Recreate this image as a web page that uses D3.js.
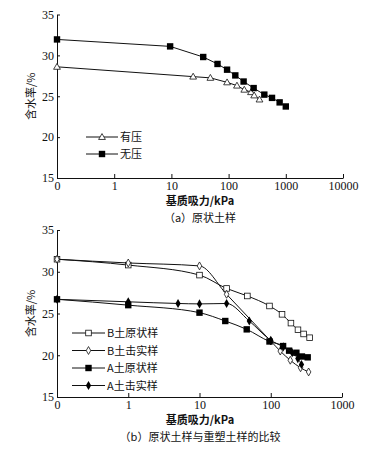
<!DOCTYPE html>
<html>
<head>
<meta charset="utf-8">
<script src="https://cdn.jsdelivr.net/npm/d3@7"></script>
<style>
  body { margin: 0; background: #fff; }
  svg text { fill: #111; }
  .num { font-family: "Liberation Serif", "DejaVu Serif", serif; font-size: 12px; }
  .cjk { font-family: "Noto Sans CJK SC", sans-serif; font-size: 11px; }
</style>
</head>
<body>
<div id="chart"></div>
<script>
// panel (a) — 原状土样
const aTicks = [0, 1, 10, 100, 1000, 10000];
const aWithLoad_x = [0, 24, 48, 94, 140, 188, 246, 280, 347];
const aWithLoad_y = [28.6, 27.4, 27.25, 26.7, 26.3, 25.8, 25.5, 25.1, 24.6];
const aNoLoad_x = [0, 9.5, 36, 64, 94, 131, 183, 274, 421, 574, 780, 1000];
const aNoLoad_y = [31.95, 31.1, 29.8, 28.95, 28.25, 27.55, 26.8, 26.0, 25.2, 24.8, 24.25, 23.75];

// panel (b) — 原状土样与重塑土样的比较
const bTicks = [0, 1, 10, 100, 1000];
const bUndistB_x = [0, 1, 10, 24, 47, 96, 144, 192, 241, 289, 351];
const bUndistB_y = [31.5, 30.8, 29.6, 28.0, 27.1, 25.9, 24.9, 23.85, 23.05, 22.55, 22.1];
const bCompB_x = [0, 1, 10, 24, 100, 136, 188, 262, 340];
const bCompB_y = [31.5, 31.05, 30.7, 27.3, 21.7, 20.5, 19.4, 18.5, 18.0];
const bUndistA_x = [0, 1, 10, 23, 46, 96, 149, 181, 229, 274, 330];
const bUndistA_y = [26.7, 26.0, 25.1, 24.1, 23.1, 21.65, 21.1, 20.55, 20.3, 19.85, 19.75];
const bCompA_x = [0, 1, 5, 10, 24, 50, 100, 150, 200, 240, 270];
const bCompA_y = [26.7, 26.4, 26.2, 26.15, 26.2, 24.1, 21.8, 21.0, 20.3, 19.6, 18.9];

const yTicks = [15, 20, 25, 30, 35];

const W = 389, H = 452;
const svg = d3.select("#chart").append("svg")
    .attr("width", W).attr("height", H);

function zip(xs, ys) { return xs.map((x, i) => ({x: x, y: ys[i]})); }

function marker(g, type, x, y) {
    if (type === "tri") {
        g.append("path").attr("d", d3.symbol(d3.symbolTriangle, 20)())
            .attr("transform", `translate(${x},${y + 0.5})`)
            .attr("fill", "#fff").attr("stroke", "#111").attr("stroke-width", 0.8);
    } else if (type === "sq") {
        g.append("rect").attr("x", x - 3.2).attr("y", y - 3.2).attr("width", 6.4).attr("height", 6.4)
            .attr("fill", "#000");
    } else if (type === "osq") {
        g.append("rect").attr("x", x - 2.8).attr("y", y - 2.8).attr("width", 5.6).attr("height", 5.6)
            .attr("fill", "#fff").attr("stroke", "#111").attr("stroke-width", 0.8);
    } else if (type === "odia") {
        g.append("path").attr("d", d3.symbol(d3.symbolDiamond, 18)())
            .attr("transform", `translate(${x},${y})`)
            .attr("fill", "#fff").attr("stroke", "#111").attr("stroke-width", 0.8);
    } else if (type === "dia") {
        g.append("path").attr("d", d3.symbol(d3.symbolDiamond, 24)())
            .attr("transform", `translate(${x},${y})`)
            .attr("fill", "#000");
    }
}

function panel(opt) {
    const g = svg.append("g");
    const xMin = 0.1;
    const x = d3.scaleLog().domain([xMin, opt.xMax]).range([opt.left, opt.right]);
    const y = d3.scaleLinear().domain([15, 35]).range([opt.bottom, opt.top]);
    const px = v => x(v === 0 ? xMin : v);

    // x axis
    const xa = g.append("g").attr("transform", `translate(0,${opt.bottom})`)
        .call(d3.axisBottom(x).tickValues(opt.ticks.map(t => t === 0 ? xMin : t))
            .tickFormat((d, i) => String(opt.ticks[i])).tickSizeInner(-4).tickSizeOuter(0).tickPadding(3));
    xa.select(".domain").attr("stroke", "#111");
    xa.selectAll(".tick line").attr("stroke", "#111");
    xa.selectAll("text").attr("class", "num").attr("font-size", null).attr("font-family", null).attr("fill", "#111");

    // y axis
    const ya = g.append("g").attr("transform", `translate(${opt.left},0)`)
        .call(d3.axisLeft(y).tickValues(yTicks).tickSizeInner(-3).tickSizeOuter(0).tickPadding(3));
    ya.select(".domain").attr("stroke", "#111");
    ya.selectAll(".tick line").attr("stroke", "#111");
    ya.selectAll("text").attr("class", "num").attr("font-size", null).attr("font-family", null).attr("fill", "#111");

    // series
    opt.series.forEach(s => {
        const pts = zip(s.x, s.y);
        g.append("path").datum(pts)
            .attr("fill", "none").attr("stroke", "#111").attr("stroke-width", 1)
            .attr("d", d3.line().x(d => px(d.x)).y(d => y(d.y)).curve(opt.curve)(pts));
        pts.forEach(d => marker(g, s.m, px(d.x), y(d.y)));
    });

    // legend
    opt.series.forEach((s, i) => {
        const ly = opt.legY + i * opt.legStep;
        g.append("line").attr("x1", opt.legX).attr("x2", opt.legX + opt.legLen)
            .attr("y1", ly).attr("y2", ly).attr("stroke", "#111").attr("stroke-width", 1);
        marker(g, s.m, opt.legX + opt.legLen / 2, ly);
        g.append("text").attr("class", "cjk").attr("x", opt.legX + opt.legLen + 2)
            .attr("y", ly + 4).text(s.name);
    });

    // labels
    g.append("text").attr("class", "cjk")
        .attr("transform", `translate(${opt.left - 22},${(opt.top + opt.bottom) / 2}) rotate(-90)`)
        .attr("text-anchor", "middle").attr("font-size", 12).text("含水率/%");
    g.append("text").attr("class", "cjk").attr("x", 200).attr("y", opt.bottom + 27)
        .attr("text-anchor", "middle").attr("font-size", 11).attr("font-weight", "bold").text("基质吸力/kPa");
    g.append("text").attr("class", "cjk").attr("x", 200).attr("y", opt.bottom + 44)
        .attr("text-anchor", "middle").attr("font-size", 11).text(opt.caption);
}

panel({
    left: 57, right: 343, top: 14.5, bottom: 178, xMax: 10000, ticks: aTicks,
    curve: d3.curveLinear,
    series: [
        {name: "有压", m: "tri", x: aWithLoad_x, y: aWithLoad_y},
        {name: "无压", m: "sq", x: aNoLoad_x, y: aNoLoad_y}
    ],
    legX: 86, legLen: 32, legY: 137, legStep: 17,
    caption: "（a）原状土样"
});

panel({
    left: 57, right: 342, top: 230, bottom: 397, xMax: 1000, ticks: bTicks,
    curve: d3.curveMonotoneX,
    series: [
        {name: "B土原状样", m: "osq", x: bUndistB_x, y: bUndistB_y},
        {name: "B土击实样", m: "odia", x: bCompB_x, y: bCompB_y},
        {name: "A土原状样", m: "sq", x: bUndistA_x, y: bUndistA_y},
        {name: "A土击实样", m: "dia", x: bCompA_x, y: bCompA_y}
    ],
    legX: 72, legLen: 33, legY: 333, legStep: 17.5,
    caption: "（b）原状土样与重塑土样的比较"
});
</script>
</body>
</html>
